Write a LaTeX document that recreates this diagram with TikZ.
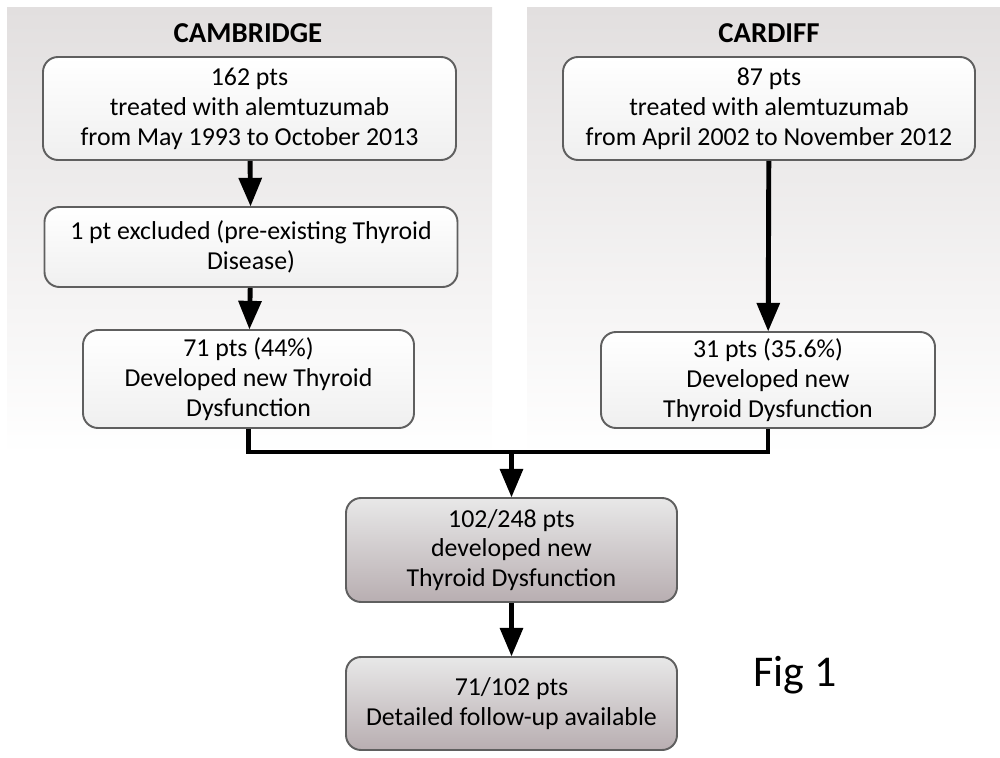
\documentclass[tikz,border=0pt]{standalone}
\usepackage{fontspec}
\setmainfont{Carlito}
\usepackage{tikz}
\usetikzlibrary{arrows}

\definecolor{panelgrey}{RGB}{226,223,223}
\definecolor{mauve}{RGB}{184,174,177}
\definecolor{rimgrey}{RGB}{95,95,95}

\begin{document}
\begin{tikzpicture}[->,>=triangle 45,line width=2.8pt,
  box/.style={rectangle,rounded corners=0.3cm,draw=rimgrey,line width=1.1pt,
    top color=white,bottom color=gray!12,align=center,inner sep=2pt,
    font=\fontsize{14.7}{17}\selectfont},
  sumbox/.style={box,top color=gray!18,middle color=white!92!gray,bottom color=mauve},
  head/.style={font=\bfseries\fontsize{16.4}{19}\selectfont}]

  \useasboundingbox (0,0) rectangle (20,-15.16);

  % site panels
  \shade[top color=panelgrey,bottom color=white,draw=none] (0.14,-0.16) rectangle (9.84,-9.1);
  \shade[top color=panelgrey,bottom color=white,draw=none] (10.54,-0.16) rectangle (20,-9.1);

  \node[head] (camb) at (4.96,-0.66) {CAMBRIDGE};
  \node[head] (card) at (15.38,-0.66) {CARDIFF};

  \node[box,minimum width=8.26cm,minimum height=2.06cm] (0) at (4.99,-2.17)
    {162 pts\\treated with alemtuzumab\\from May 1993 to October 2013};
  \node[box,minimum width=8.26cm,minimum height=1.6cm] (1) at (5.02,-4.94)
    {1 pt excluded (pre-existing Thyroid\\Disease)};
  \node[box,minimum width=6.62cm,minimum height=1.96cm] (2) at (4.97,-7.58)
    {71 pts (44\%)\\Developed new Thyroid\\Dysfunction};

  \node[box,minimum width=8.24cm,minimum height=2.06cm] (3) at (15.38,-2.17)
    {87 pts\\treated with alemtuzumab\\from April 2002 to November 2012};
  \node[box,minimum width=6.68cm,minimum height=1.92cm] (4) at (15.36,-7.6)
    {31 pts (35.6\%)\\Developed new\\Thyroid Dysfunction};

  \coordinate (join) at (10.23,-9.04);

  \node[sumbox,minimum width=6.62cm,minimum height=2.08cm] (5) at (10.23,-11.0)
    {102/248 pts\\developed new\\Thyroid Dysfunction};
  \node[sumbox,minimum width=6.62cm,minimum height=1.86cm] (6) at (10.23,-14.07)
    {71/102 pts\\Detailed follow-up available};

  \node[font=\fontsize{25}{30}\selectfont] (fig) at (15.9,-13.5) {Fig 1};

  \draw (0) -- (1);
  \draw (1) -- (2);
  \draw (3) -- (4);
  \draw[-] (2.south) -- (2.south |- join) -- (4.south |- join) -- (4.south);
  \draw (join) -- (5);
  \draw (5) -- (6);
\end{tikzpicture}
\end{document}
